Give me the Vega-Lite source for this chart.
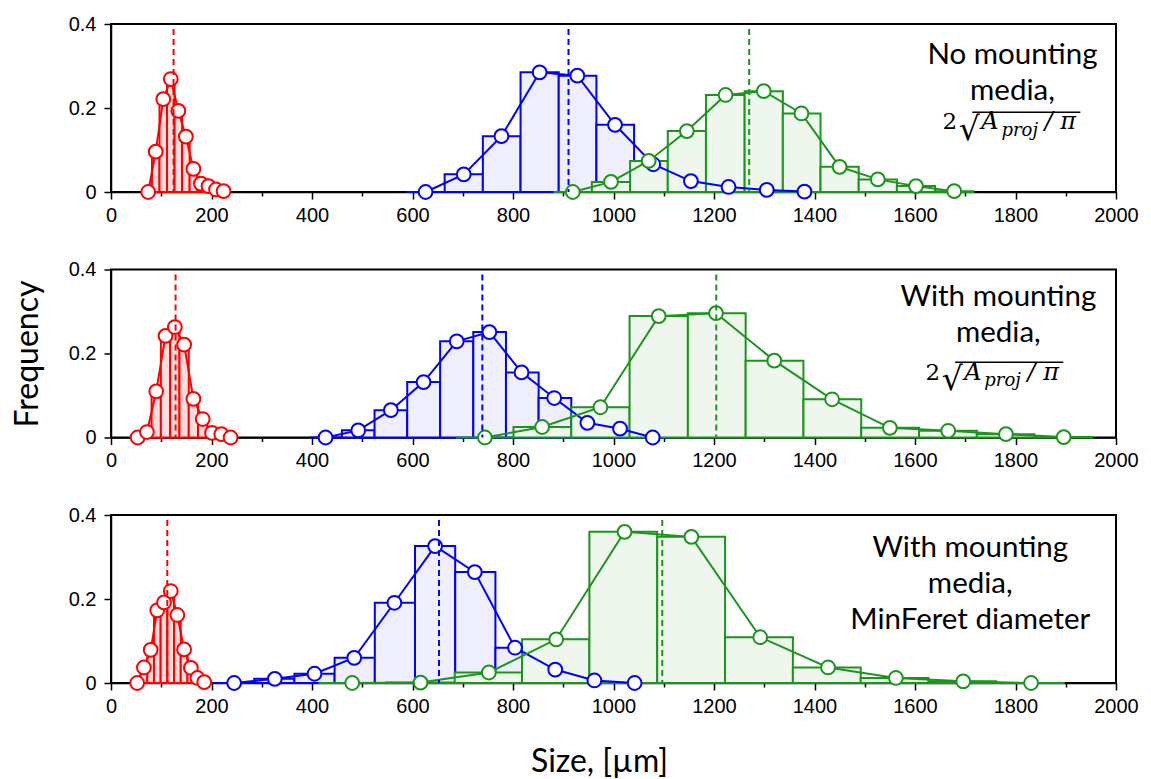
{
"$schema": "https://vega.github.io/schema/vega-lite/v6.json",
"background": "white",
"padding": {"left": 10, "top": 13, "right": 5, "bottom": 5},
"bounds": "flush",
"spacing": 77.5,
"config": {
  "view": {"stroke": "black", "strokeWidth": 2},
  "axis": {"domainColor": "black", "domainWidth": 1.5, "tickColor": "black", "tickWidth": 1.5, "labelColor": "black", "labelFont": "Liberation Sans", "labelFontSize": 20, "grid": false, "titleFont": "Lato", "titleFontSize": 32, "titleFontWeight": "normal", "titleColor": "black"},
  "text": {"color": "black", "align": "left", "baseline": "alphabetic"}
},
"datasets": {
  "bins": [
    {"p":1,"s":"r","x":74,"lo":66.5,"hi":81.5,"f":0},
    {"p":1,"s":"r","x":89,"lo":81.5,"hi":96.5,"f":0.096},
    {"p":1,"s":"r","x":104,"lo":96.5,"hi":111.5,"f":0.221},
    {"p":1,"s":"r","x":119,"lo":111.5,"hi":126.5,"f":0.269},
    {"p":1,"s":"r","x":134,"lo":126.5,"hi":141.5,"f":0.193},
    {"p":1,"s":"r","x":149,"lo":141.5,"hi":156.5,"f":0.132},
    {"p":1,"s":"r","x":164,"lo":156.5,"hi":171.5,"f":0.055},
    {"p":1,"s":"r","x":179,"lo":171.5,"hi":186.5,"f":0.02},
    {"p":1,"s":"r","x":194,"lo":186.5,"hi":201.5,"f":0.014},
    {"p":1,"s":"r","x":209,"lo":201.5,"hi":216.5,"f":0.006},
    {"p":1,"s":"r","x":224,"lo":216.5,"hi":231.5,"f":0.002},
    {"p":1,"s":"b","x":626,"lo":588,"hi":664,"f":0},
    {"p":1,"s":"b","x":702,"lo":664,"hi":740,"f":0.042},
    {"p":1,"s":"b","x":777,"lo":740,"hi":815,"f":0.133},
    {"p":1,"s":"b","x":853,"lo":815,"hi":891,"f":0.285},
    {"p":1,"s":"b","x":928,"lo":891,"hi":966,"f":0.277},
    {"p":1,"s":"b","x":1003,"lo":966,"hi":1041,"f":0.160},
    {"p":1,"s":"b","x":1079,"lo":1041,"hi":1117,"f":0.066},
    {"p":1,"s":"b","x":1154,"lo":1117,"hi":1192,"f":0.026},
    {"p":1,"s":"b","x":1229,"lo":1192,"hi":1267,"f":0.012},
    {"p":1,"s":"b","x":1305,"lo":1267,"hi":1343,"f":0.005},
    {"p":1,"s":"b","x":1380,"lo":1343,"hi":1418,"f":0.001},
    {"p":1,"s":"g","x":919,"lo":881,"hi":957,"f":0},
    {"p":1,"s":"g","x":995,"lo":957,"hi":1033,"f":0.024},
    {"p":1,"s":"g","x":1070,"lo":1033,"hi":1108,"f":0.074},
    {"p":1,"s":"g","x":1146,"lo":1108,"hi":1184,"f":0.145},
    {"p":1,"s":"g","x":1223,"lo":1184,"hi":1261,"f":0.231},
    {"p":1,"s":"g","x":1299,"lo":1261,"hi":1337,"f":0.240},
    {"p":1,"s":"g","x":1374,"lo":1337,"hi":1412,"f":0.187},
    {"p":1,"s":"g","x":1450,"lo":1412,"hi":1488,"f":0.060},
    {"p":1,"s":"g","x":1526,"lo":1488,"hi":1564,"f":0.030},
    {"p":1,"s":"g","x":1602,"lo":1564,"hi":1640,"f":0.014},
    {"p":1,"s":"g","x":1678,"lo":1640,"hi":1716,"f":0.002},
    {"p":2,"s":"r","x":53,"lo":43.75,"hi":62.25,"f":0},
    {"p":2,"s":"r","x":71.5,"lo":62.25,"hi":80.75,"f":0.013},
    {"p":2,"s":"r","x":90,"lo":80.75,"hi":99.25,"f":0.110},
    {"p":2,"s":"r","x":108.5,"lo":99.25,"hi":117.75,"f":0.242},
    {"p":2,"s":"r","x":127,"lo":117.75,"hi":136.25,"f":0.263},
    {"p":2,"s":"r","x":145.5,"lo":136.25,"hi":154.75,"f":0.221},
    {"p":2,"s":"r","x":164,"lo":154.75,"hi":173.25,"f":0.092},
    {"p":2,"s":"r","x":182.5,"lo":173.25,"hi":191.75,"f":0.044},
    {"p":2,"s":"r","x":201,"lo":191.75,"hi":210.25,"f":0.011},
    {"p":2,"s":"r","x":219.5,"lo":210.25,"hi":228.75,"f":0.008},
    {"p":2,"s":"r","x":238,"lo":228.75,"hi":247.25,"f":0},
    {"p":2,"s":"b","x":427,"lo":394.5,"hi":459.5,"f":0},
    {"p":2,"s":"b","x":492,"lo":459.5,"hi":524.5,"f":0.017},
    {"p":2,"s":"b","x":557,"lo":524.5,"hi":589.5,"f":0.065},
    {"p":2,"s":"b","x":622,"lo":589.5,"hi":655,"f":0.132},
    {"p":2,"s":"b","x":688,"lo":655,"hi":721,"f":0.229},
    {"p":2,"s":"b","x":753,"lo":721,"hi":786,"f":0.251},
    {"p":2,"s":"b","x":817,"lo":786,"hi":851,"f":0.155},
    {"p":2,"s":"b","x":882,"lo":851,"hi":916,"f":0.094},
    {"p":2,"s":"b","x":948,"lo":916,"hi":981,"f":0.035},
    {"p":2,"s":"b","x":1013,"lo":981,"hi":1046,"f":0.021},
    {"p":2,"s":"b","x":1078,"lo":1046,"hi":1111,"f":0},
    {"p":2,"s":"g","x":744,"lo":686,"hi":801,"f":0},
    {"p":2,"s":"g","x":858,"lo":801,"hi":916,"f":0.025},
    {"p":2,"s":"g","x":974,"lo":916,"hi":1032,"f":0.072},
    {"p":2,"s":"g","x":1090,"lo":1032,"hi":1148,"f":0.289},
    {"p":2,"s":"g","x":1204,"lo":1148,"hi":1263,"f":0.296},
    {"p":2,"s":"g","x":1320,"lo":1263,"hi":1378,"f":0.183},
    {"p":2,"s":"g","x":1435,"lo":1378,"hi":1493,"f":0.091},
    {"p":2,"s":"g","x":1550,"lo":1493,"hi":1608,"f":0.023},
    {"p":2,"s":"g","x":1666,"lo":1608,"hi":1723,"f":0.016},
    {"p":2,"s":"g","x":1781,"lo":1723,"hi":1838,"f":0.008},
    {"p":2,"s":"g","x":1896,"lo":1838,"hi":1953,"f":0.001},
    {"p":3,"s":"r","x":52,"lo":45.3,"hi":58.7,"f":0},
    {"p":3,"s":"r","x":65.5,"lo":58.7,"hi":72.2,"f":0.037},
    {"p":3,"s":"r","x":79,"lo":72.2,"hi":85.5,"f":0.079},
    {"p":3,"s":"r","x":92,"lo":85.5,"hi":98.8,"f":0.173},
    {"p":3,"s":"r","x":105.5,"lo":98.8,"hi":112.2,"f":0.192},
    {"p":3,"s":"r","x":119,"lo":112.2,"hi":125.5,"f":0.219},
    {"p":3,"s":"r","x":132,"lo":125.5,"hi":138.8,"f":0.162},
    {"p":3,"s":"r","x":145.5,"lo":138.8,"hi":152.2,"f":0.080},
    {"p":3,"s":"r","x":159,"lo":152.2,"hi":165.5,"f":0.036},
    {"p":3,"s":"r","x":172,"lo":165.5,"hi":178.8,"f":0.012},
    {"p":3,"s":"r","x":185.5,"lo":178.8,"hi":192.2,"f":0.002},
    {"p":3,"s":"b","x":245,"lo":205,"hi":285,"f":0},
    {"p":3,"s":"b","x":326,"lo":285,"hi":365,"f":0.010},
    {"p":3,"s":"b","x":405,"lo":365,"hi":445,"f":0.022},
    {"p":3,"s":"b","x":484,"lo":445,"hi":525,"f":0.060},
    {"p":3,"s":"b","x":564,"lo":525,"hi":605,"f":0.191},
    {"p":3,"s":"b","x":645,"lo":605,"hi":685,"f":0.326},
    {"p":3,"s":"b","x":724,"lo":685,"hi":765,"f":0.264},
    {"p":3,"s":"b","x":804,"lo":765,"hi":845,"f":0.084},
    {"p":3,"s":"b","x":884,"lo":845,"hi":925,"f":0.032},
    {"p":3,"s":"b","x":962,"lo":925,"hi":1003,"f":0.006},
    {"p":3,"s":"b","x":1042,"lo":1003,"hi":1082,"f":0},
    {"p":3,"s":"g","x":480,"lo":413,"hi":548,"f":0},
    {"p":3,"s":"g","x":616,"lo":548,"hi":684,"f":0.001},
    {"p":3,"s":"g","x":752,"lo":684,"hi":818,"f":0.025},
    {"p":3,"s":"g","x":886,"lo":818,"hi":952,"f":0.104},
    {"p":3,"s":"g","x":1022,"lo":952,"hi":1087,"f":0.360},
    {"p":3,"s":"g","x":1155,"lo":1087,"hi":1222,"f":0.348},
    {"p":3,"s":"g","x":1292,"lo":1222,"hi":1357,"f":0.109},
    {"p":3,"s":"g","x":1427,"lo":1357,"hi":1492,"f":0.037},
    {"p":3,"s":"g","x":1562,"lo":1492,"hi":1627,"f":0.012},
    {"p":3,"s":"g","x":1696,"lo":1627,"hi":1762,"f":0.004},
    {"p":3,"s":"g","x":1831,"lo":1762,"hi":1898,"f":0}
  ],
  "means": [
    {"p":1,"s":"r","m":124.5},{"p":1,"s":"b","m":910.5},{"p":1,"s":"g","m":1270},
    {"p":2,"s":"r","m":128.5},{"p":2,"s":"b","m":739},{"p":2,"s":"g","m":1204.5},
    {"p":3,"s":"r","m":112},{"p":3,"s":"b","m":652.7},{"p":3,"s":"g","m":1097}
  ]
},
"vconcat": [
{
  "width": 1005, "height": 168,
  "layer": [
    {"data": {"name": "bins"}, "transform": [{"filter": "datum.p == 1"}],
     "mark": {"type": "rect", "strokeWidth": 2},
     "encoding": {
       "x": {"field": "lo", "type": "quantitative", "scale": {"domain": [0, 2000], "nice": false}, "axis": {"values": [0,100,200,300,400,500,600,700,800,900,1000,1100,1200,1300,1400,1500,1600,1700,1800,1900,2000], "format": "d", "labelExpr": "datum.value % 200 == 0 ? datum.label : ''", "tickSize": {"condition": {"test": "datum.value % 200 == 0", "value": 7}, "value": 4}, "labelPadding": 6, "labelOverlap": false, "labelFlush": false, "title": null}},
       "x2": {"field": "hi"},
       "y": {"field": "f", "type": "quantitative", "scale": {"domain": [0, 0.4], "nice": false}, "axis": {"values": [0, 0.2, 0.4], "format": "~g", "tickSize": 7, "labelPadding": 8, "title": null}},
       "y2": {"datum": 0},
       "fill": {"field": "s", "type": "nominal", "scale": {"domain": ["r","b","g"], "range": ["#fcdede","#eeeefc","#eef6ee"]}, "legend": null},
       "stroke": {"field": "s", "type": "nominal", "scale": {"domain": ["r","b","g"], "range": ["#ff0000","#0000ff","#1a961a"]}, "legend": null}
     }},
    {"data": {"name": "bins"}, "transform": [{"filter": "datum.p == 1"}],
     "mark": {"type": "line", "strokeWidth": 2},
     "encoding": {
       "x": {"field": "x", "type": "quantitative", "title": null},
       "y": {"field": "f", "type": "quantitative", "title": null},
       "stroke": {"field": "s", "type": "nominal", "legend": null}
     }},
    {"data": {"name": "bins"}, "transform": [{"filter": "datum.p == 1"}],
     "mark": {"type": "point", "filled": false, "fill": "white", "size": 190, "strokeWidth": 2, "opacity": 1},
     "encoding": {
       "x": {"field": "x", "type": "quantitative", "title": null},
       "y": {"field": "f", "type": "quantitative", "title": null},
       "stroke": {"field": "s", "type": "nominal", "legend": null}
     }},
    {"data": {"name": "means"}, "transform": [{"filter": "datum.p == 1"}],
     "mark": {"type": "rule", "strokeDash": [6, 4], "strokeWidth": 2},
     "encoding": {
       "x": {"field": "m", "type": "quantitative", "title": null},
       "y": {"datum": 0.388, "type": "quantitative", "title": null},
       "y2": {"datum": 0},
       "stroke": {"field": "s", "type": "nominal", "legend": null}
     }},
    {"data": {"values": [{}]},
     "mark": {"type": "text", "text": ["No mounting", "media,"], "font": "Lato", "fontSize": 29.5, "lineHeight": 36, "align": "center"},
     "encoding": {"x": {"datum": 1794, "type": "quantitative", "title": null}, "y": {"datum": 0.304, "type": "quantitative", "title": null}}},
    {"data": {"values": [{}]},
     "mark": {"type": "text", "text": "2", "font": "DejaVu Serif", "fontSize": 23, "align": "right"},
     "encoding": {"x": {"datum": 1684, "type": "quantitative", "title": null}, "y": {"datum": 0.149, "type": "quantitative", "title": null}}},
    {"data": {"values": [{}]},
     "mark": {"type": "text", "text": "√", "font": "DejaVu Serif", "fontSize": 33},
     "encoding": {"x": {"datum": 1687, "type": "quantitative", "title": null}, "y": {"datum": 0.123, "type": "quantitative", "title": null}}},
    {"data": {"values": [{}]},
     "mark": {"type": "text", "text": "A", "font": "DejaVu Serif", "fontStyle": "italic", "fontSize": 24},
     "encoding": {"x": {"datum": 1732, "type": "quantitative", "title": null}, "y": {"datum": 0.149, "type": "quantitative", "title": null}}},
    {"data": {"values": [{}]},
     "mark": {"type": "text", "text": "proj", "font": "DejaVu Serif", "fontStyle": "italic", "fontSize": 18},
     "encoding": {"x": {"datum": 1772, "type": "quantitative", "title": null}, "y": {"datum": 0.134, "type": "quantitative", "title": null}}},
    {"data": {"values": [{}]},
     "mark": {"type": "text", "text": "/", "font": "DejaVu Serif", "fontStyle": "italic", "fontSize": 24},
     "encoding": {"x": {"datum": 1858, "type": "quantitative", "title": null}, "y": {"datum": 0.149, "type": "quantitative", "title": null}}},
    {"data": {"values": [{}]},
     "mark": {"type": "text", "text": "π", "font": "DejaVu Serif", "fontStyle": "italic", "fontSize": 24},
     "encoding": {"x": {"datum": 1889, "type": "quantitative", "title": null}, "y": {"datum": 0.149, "type": "quantitative", "title": null}}},
    {"data": {"values": [{}]},
     "mark": {"type": "rule", "strokeWidth": 1.5, "color": "black"},
     "encoding": {"x": {"datum": 1714, "type": "quantitative", "title": null}, "x2": {"datum": 1929}, "y": {"datum": 0.19, "type": "quantitative", "title": null}}}
  ]
},
{
  "width": 1005, "height": 168,
  "layer": [
    {"data": {"name": "bins"}, "transform": [{"filter": "datum.p == 2"}],
     "mark": {"type": "rect", "strokeWidth": 2},
     "encoding": {
       "x": {"field": "lo", "type": "quantitative", "scale": {"domain": [0, 2000], "nice": false}, "axis": {"values": [0,100,200,300,400,500,600,700,800,900,1000,1100,1200,1300,1400,1500,1600,1700,1800,1900,2000], "format": "d", "labelExpr": "datum.value % 200 == 0 ? datum.label : ''", "tickSize": {"condition": {"test": "datum.value % 200 == 0", "value": 7}, "value": 4}, "labelPadding": 6, "labelOverlap": false, "labelFlush": false, "title": null}},
       "x2": {"field": "hi"},
       "y": {"field": "f", "type": "quantitative", "scale": {"domain": [0, 0.4], "nice": false}, "axis": {"values": [0, 0.2, 0.4], "format": "~g", "tickSize": 7, "labelPadding": 8, "title": "Frequency", "titlePadding": 24}},
       "y2": {"datum": 0},
       "fill": {"field": "s", "type": "nominal", "scale": {"domain": ["r","b","g"], "range": ["#fcdede","#eeeefc","#eef6ee"]}, "legend": null},
       "stroke": {"field": "s", "type": "nominal", "scale": {"domain": ["r","b","g"], "range": ["#ff0000","#0000ff","#1a961a"]}, "legend": null}
     }},
    {"data": {"name": "bins"}, "transform": [{"filter": "datum.p == 2"}],
     "mark": {"type": "line", "strokeWidth": 2},
     "encoding": {
       "x": {"field": "x", "type": "quantitative", "title": null},
       "y": {"field": "f", "type": "quantitative", "title": "Frequency"},
       "stroke": {"field": "s", "type": "nominal", "legend": null}
     }},
    {"data": {"name": "bins"}, "transform": [{"filter": "datum.p == 2"}],
     "mark": {"type": "point", "filled": false, "fill": "white", "size": 190, "strokeWidth": 2, "opacity": 1},
     "encoding": {
       "x": {"field": "x", "type": "quantitative", "title": null},
       "y": {"field": "f", "type": "quantitative", "title": "Frequency"},
       "stroke": {"field": "s", "type": "nominal", "legend": null}
     }},
    {"data": {"name": "means"}, "transform": [{"filter": "datum.p == 2"}],
     "mark": {"type": "rule", "strokeDash": [6, 4], "strokeWidth": 2},
     "encoding": {
       "x": {"field": "m", "type": "quantitative", "title": null},
       "y": {"datum": 0.388, "type": "quantitative", "title": "Frequency"},
       "y2": {"datum": 0},
       "stroke": {"field": "s", "type": "nominal", "legend": null}
     }},
    {"data": {"values": [{}]},
     "mark": {"type": "text", "text": ["With mounting", "media,"], "font": "Lato", "fontSize": 29.5, "lineHeight": 36, "align": "center"},
     "encoding": {"x": {"datum": 1766, "type": "quantitative", "title": null}, "y": {"datum": 0.314, "type": "quantitative", "title": "Frequency"}}},
    {"data": {"values": [{}]},
     "mark": {"type": "text", "text": "2", "font": "DejaVu Serif", "fontSize": 23, "align": "right"},
     "encoding": {"x": {"datum": 1650, "type": "quantitative", "title": null}, "y": {"datum": 0.138, "type": "quantitative", "title": "Frequency"}}},
    {"data": {"values": [{}]},
     "mark": {"type": "text", "text": "√", "font": "DejaVu Serif", "fontSize": 33},
     "encoding": {"x": {"datum": 1653, "type": "quantitative", "title": null}, "y": {"datum": 0.112, "type": "quantitative", "title": "Frequency"}}},
    {"data": {"values": [{}]},
     "mark": {"type": "text", "text": "A", "font": "DejaVu Serif", "fontStyle": "italic", "fontSize": 24},
     "encoding": {"x": {"datum": 1698, "type": "quantitative", "title": null}, "y": {"datum": 0.138, "type": "quantitative", "title": "Frequency"}}},
    {"data": {"values": [{}]},
     "mark": {"type": "text", "text": "proj", "font": "DejaVu Serif", "fontStyle": "italic", "fontSize": 18},
     "encoding": {"x": {"datum": 1738, "type": "quantitative", "title": null}, "y": {"datum": 0.123, "type": "quantitative", "title": "Frequency"}}},
    {"data": {"values": [{}]},
     "mark": {"type": "text", "text": "/", "font": "DejaVu Serif", "fontStyle": "italic", "fontSize": 24},
     "encoding": {"x": {"datum": 1824, "type": "quantitative", "title": null}, "y": {"datum": 0.138, "type": "quantitative", "title": "Frequency"}}},
    {"data": {"values": [{}]},
     "mark": {"type": "text", "text": "π", "font": "DejaVu Serif", "fontStyle": "italic", "fontSize": 24},
     "encoding": {"x": {"datum": 1855, "type": "quantitative", "title": null}, "y": {"datum": 0.138, "type": "quantitative", "title": "Frequency"}}},
    {"data": {"values": [{}]},
     "mark": {"type": "rule", "strokeWidth": 1.5, "color": "black"},
     "encoding": {"x": {"datum": 1680, "type": "quantitative", "title": null}, "x2": {"datum": 1895}, "y": {"datum": 0.179, "type": "quantitative", "title": "Frequency"}}}
  ]
},
{
  "width": 1005, "height": 168,
  "layer": [
    {"data": {"name": "bins"}, "transform": [{"filter": "datum.p == 3"}],
     "mark": {"type": "rect", "strokeWidth": 2},
     "encoding": {
       "x": {"field": "lo", "type": "quantitative", "scale": {"domain": [0, 2000], "nice": false}, "axis": {"values": [0,100,200,300,400,500,600,700,800,900,1000,1100,1200,1300,1400,1500,1600,1700,1800,1900,2000], "format": "d", "labelExpr": "datum.value % 200 == 0 ? datum.label : ''", "tickSize": {"condition": {"test": "datum.value % 200 == 0", "value": 7}, "value": 4}, "labelPadding": 6, "labelOverlap": false, "labelFlush": false, "title": "Size, [µm]", "titlePadding": 30, "titleX": 488}},
       "x2": {"field": "hi"},
       "y": {"field": "f", "type": "quantitative", "scale": {"domain": [0, 0.4], "nice": false}, "axis": {"values": [0, 0.2, 0.4], "format": "~g", "tickSize": 7, "labelPadding": 8, "title": null}},
       "y2": {"datum": 0},
       "fill": {"field": "s", "type": "nominal", "scale": {"domain": ["r","b","g"], "range": ["#fcdede","#eeeefc","#eef6ee"]}, "legend": null},
       "stroke": {"field": "s", "type": "nominal", "scale": {"domain": ["r","b","g"], "range": ["#ff0000","#0000ff","#1a961a"]}, "legend": null}
     }},
    {"data": {"name": "bins"}, "transform": [{"filter": "datum.p == 3"}],
     "mark": {"type": "line", "strokeWidth": 2},
     "encoding": {
       "x": {"field": "x", "type": "quantitative", "title": "Size, [µm]"},
       "y": {"field": "f", "type": "quantitative", "title": null},
       "stroke": {"field": "s", "type": "nominal", "legend": null}
     }},
    {"data": {"name": "bins"}, "transform": [{"filter": "datum.p == 3"}],
     "mark": {"type": "point", "filled": false, "fill": "white", "size": 190, "strokeWidth": 2, "opacity": 1},
     "encoding": {
       "x": {"field": "x", "type": "quantitative", "title": "Size, [µm]"},
       "y": {"field": "f", "type": "quantitative", "title": null},
       "stroke": {"field": "s", "type": "nominal", "legend": null}
     }},
    {"data": {"name": "means"}, "transform": [{"filter": "datum.p == 3"}],
     "mark": {"type": "rule", "strokeDash": [6, 4], "strokeWidth": 2},
     "encoding": {
       "x": {"field": "m", "type": "quantitative", "title": "Size, [µm]"},
       "y": {"datum": 0.388, "type": "quantitative", "title": null},
       "y2": {"datum": 0},
       "stroke": {"field": "s", "type": "nominal", "legend": null}
     }},
    {"data": {"values": [{}]},
     "mark": {"type": "text", "text": ["With mounting", "media,", "MinFeret diameter"], "font": "Lato", "fontSize": 29.5, "lineHeight": 36, "align": "center"},
     "encoding": {"x": {"datum": 1710, "type": "quantitative", "title": "Size, [µm]"}, "y": {"datum": 0.299, "type": "quantitative", "title": null}}}
  ]
}
]
}
